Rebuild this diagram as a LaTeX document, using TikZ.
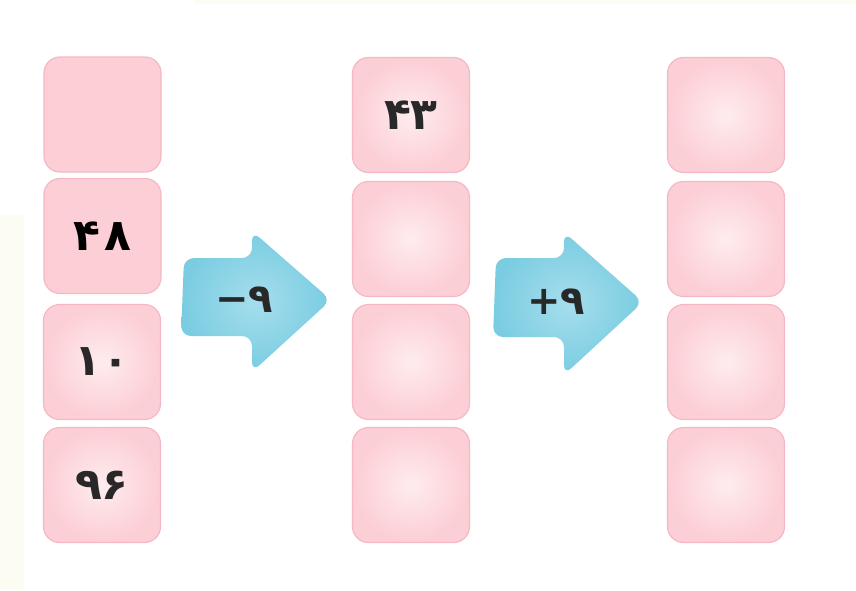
\documentclass[tikz,border=0pt]{standalone}
\usepackage{fontspec}
\newfontfamily\fa{DejaVu Sans}
\definecolor{boxpink}{RGB}{252,206,213}
\definecolor{boxedge}{RGB}{246,184,196}
\definecolor{boxinner}{RGB}{254,236,238}
\definecolor{arrowblue}{RGB}{122,204,225}
\definecolor{arrowlight}{RGB}{165,222,237}
\definecolor{cream}{RGB}{253,252,242}
\definecolor{digitgray}{RGB}{40,40,40}
\tikzset{
  cell/.style={rectangle, rounded corners=16pt, minimum width=117pt, minimum height=115pt,
    draw=boxedge, line width=1.2pt, inner sep=0pt},
  flatcell/.style={cell, fill=boxpink},
  shadecell/.style={cell, inner color=boxinner, outer color=boxpink},
  celltext/.style={font=\fa\bfseries\fontsize{44}{44}\selectfont},
  optext/.style={font=\fa\bfseries\fontsize{40}{40}\selectfont, text=digitgray},
  opshape/.style={rounded corners=10pt, inner color=arrowlight, outer color=arrowblue, draw=none}
}
\begin{document}
\begin{tikzpicture}[x=1pt,y=-1pt]
\useasboundingbox (0,0) rectangle (856,590);
\fill[white] (0,0) rectangle (856,590);
\fill[cream] (0,215) rectangle (24,590);
\fill[cream] (195,0) rectangle (856,4);
% column 1
\node[flatcell] (a1) at (102.5,114.5) {};
\node[flatcell, celltext, text=black] (a2) at (102.5,236) {۴\hspace{4pt}۸};
\node[shadecell, celltext, text=digitgray] (a3) at (102,362) {۱\hspace{2pt}۰};
\node[shadecell, celltext, text=digitgray] (a4) at (102,485) {۹۶};
% column 2
\node[shadecell, celltext, text=digitgray] (b1) at (411,115) {۴۳};
\node[shadecell] (b2) at (411,239) {};
\node[shadecell] (b3) at (411,362) {};
\node[shadecell] (b4) at (411,485) {};
% column 3
\node[shadecell] (c1) at (726,115) {};
\node[shadecell] (c2) at (726,239) {};
\node[shadecell] (c3) at (726,362) {};
\node[shadecell] (c4) at (726,485) {};
% arrows
\path[opshape] (252,258) -- (184,258) -- (181,336) -- (252,336) -- (252,372) -- (331,300) -- (252,231) -- cycle;
\node[optext] (op1) at (244,300) {\mbox{−}\mbox{۹}};
\path[opshape] (564,258) -- (496,258) -- (493,337) -- (564,337) -- (564,375) -- (643,302) -- (564,232) -- cycle;
\node[optext] (op2) at (556,302) {\mbox{+}\mbox{۹}};
\end{tikzpicture}
\end{document}
